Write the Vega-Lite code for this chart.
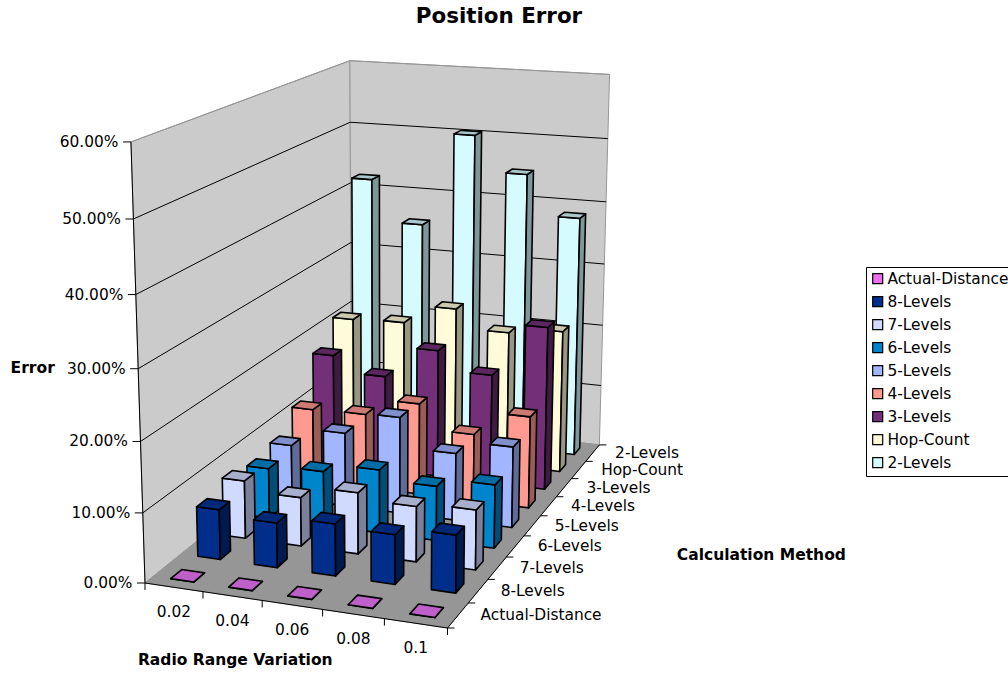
{"$schema":"https://vega.github.io/schema/vega-lite/v6.json","width":1008,"height":643,"autosize":{"type":"none"},"padding":{"left":0,"top":30,"right":0,"bottom":0},"background":"white","title":{"text":"Position Error","font":"DejaVu Sans","fontSize":21.4,"fontWeight":"bold","color":"#000","anchor":"middle","dx":-5,"offset":3},"projection":{"type":"identity","scale":1,"translate":[0,-30]},"config":{"view":{"stroke":null},"font":"DejaVu Sans"},"datasets":{"bars":[
{"radio":0.02,"method":"2-Levels","error":42.1},{"radio":0.04,"method":"2-Levels","error":35.4},{"radio":0.06,"method":"2-Levels","error":50.3},{"radio":0.08,"method":"2-Levels","error":44.7},{"radio":0.1,"method":"2-Levels","error":38.4},
{"radio":0.02,"method":"Hop-Count","error":21.2},{"radio":0.04,"method":"Hop-Count","error":21.5},{"radio":0.06,"method":"Hop-Count","error":24.5},{"radio":0.08,"method":"Hop-Count","error":21.5},{"radio":0.1,"method":"Hop-Count","error":22.5},
{"radio":0.02,"method":"3-Levels","error":17.6},{"radio":0.04,"method":"3-Levels","error":15.1},{"radio":0.06,"method":"3-Levels","error":20.1},{"radio":0.08,"method":"3-Levels","error":17.1},{"radio":0.1,"method":"3-Levels","error":25.4},
{"radio":0.02,"method":"4-Levels","error":11.4},{"radio":0.04,"method":"4-Levels","error":11.6},{"radio":0.06,"method":"4-Levels","error":14.2},{"radio":0.08,"method":"4-Levels","error":10.4},{"radio":0.1,"method":"4-Levels","error":14.1},
{"radio":0.02,"method":"5-Levels","error":8.4},{"radio":0.04,"method":"5-Levels","error":11.3},{"radio":0.06,"method":"5-Levels","error":14.7},{"radio":0.08,"method":"5-Levels","error":10.2},{"radio":0.1,"method":"5-Levels","error":12.2},
{"radio":0.02,"method":"6-Levels","error":7.6},{"radio":0.04,"method":"6-Levels","error":8.2},{"radio":0.06,"method":"6-Levels","error":9.5},{"radio":0.08,"method":"6-Levels","error":8.1},{"radio":0.1,"method":"6-Levels","error":9.4},
{"radio":0.02,"method":"7-Levels","error":8.6},{"radio":0.04,"method":"7-Levels","error":7.2},{"radio":0.06,"method":"7-Levels","error":9.0},{"radio":0.08,"method":"7-Levels","error":8.1},{"radio":0.1,"method":"7-Levels","error":8.7},
{"radio":0.02,"method":"8-Levels","error":7.3},{"radio":0.04,"method":"8-Levels","error":6.5},{"radio":0.06,"method":"8-Levels","error":7.5},{"radio":0.08,"method":"8-Levels","error":7.1},{"radio":0.1,"method":"8-Levels","error":8.2},
{"radio":0.02,"method":"Actual-Distance","error":0},{"radio":0.04,"method":"Actual-Distance","error":0},{"radio":0.06,"method":"Actual-Distance","error":0},{"radio":0.08,"method":"Actual-Distance","error":0},{"radio":0.1,"method":"Actual-Distance","error":0}
],"frame":[{"part":"Left wall","p":[0,0,0],"q":[0,1,0],"r":[0,1,1],"s":[0,0,1]},{"part":"Back wall","p":[0,1,0],"q":[1,1,0],"r":[1,1,1],"s":[0,1,1]},{"part":"Floor","p":[0,0,0],"q":[1,0,0],"r":[1,1,0],"s":[0,1,0]}],
"axisLines":[{"axis":"Error","p":[0,0,0],"q":[0,0,1]},{"axis":"Radio","p":[0,0,0],"q":[1,0,0]},{"axis":"Method","p":[1,0,0],"q":[1,1,0]}],
"errorTicks":[{"error":0,"label":"0.00%"},{"error":10,"label":"10.00%"},{"error":20,"label":"20.00%"},{"error":30,"label":"30.00%"},{"error":40,"label":"40.00%"},{"error":50,"label":"50.00%"},{"error":60,"label":"60.00%"}],
"radioTicks":[{"u":0},{"u":0.2},{"u":0.4},{"u":0.6},{"u":0.8},{"u":1}],
"radioLabels":[{"u":0.1,"label":"0.02"},{"u":0.3,"label":"0.04"},{"u":0.5,"label":"0.06"},{"u":0.7,"label":"0.08"},{"u":0.9,"label":"0.1"}],
"methodTicks":[{"k":0},{"k":1},{"k":2},{"k":3},{"k":4},{"k":5},{"k":6},{"k":7},{"k":8},{"k":9}],
"methodLabels":[{"k":0,"label":"Actual-Distance"},{"k":1,"label":"8-Levels"},{"k":2,"label":"7-Levels"},{"k":3,"label":"6-Levels"},{"k":4,"label":"5-Levels"},{"k":5,"label":"4-Levels"},{"k":6,"label":"3-Levels"},{"k":7,"label":"Hop-Count"},{"k":8,"label":"2-Levels"}]},
"layer":[
{"data":{"name":"frame"},"transform":[
{"calculate":"[(279.41*datum.p[0]+295.11*datum.p[1]-21.24*datum.p[2]+145)/(1-0.0516*datum.p[0]+0.2521*datum.p[1]-0.055*datum.p[2]),(12.6*datum.p[0]-61.5*datum.p[1]-448.85*datum.p[2]+583)/(1-0.0516*datum.p[0]+0.2521*datum.p[1]-0.055*datum.p[2])]","as":"P"},
{"calculate":"[(279.41*datum.q[0]+295.11*datum.q[1]-21.24*datum.q[2]+145)/(1-0.0516*datum.q[0]+0.2521*datum.q[1]-0.055*datum.q[2]),(12.6*datum.q[0]-61.5*datum.q[1]-448.85*datum.q[2]+583)/(1-0.0516*datum.q[0]+0.2521*datum.q[1]-0.055*datum.q[2])]","as":"Q"},
{"calculate":"[(279.41*datum.r[0]+295.11*datum.r[1]-21.24*datum.r[2]+145)/(1-0.0516*datum.r[0]+0.2521*datum.r[1]-0.055*datum.r[2]),(12.6*datum.r[0]-61.5*datum.r[1]-448.85*datum.r[2]+583)/(1-0.0516*datum.r[0]+0.2521*datum.r[1]-0.055*datum.r[2])]","as":"R"},
{"calculate":"[(279.41*datum.s[0]+295.11*datum.s[1]-21.24*datum.s[2]+145)/(1-0.0516*datum.s[0]+0.2521*datum.s[1]-0.055*datum.s[2]),(12.6*datum.s[0]-61.5*datum.s[1]-448.85*datum.s[2]+583)/(1-0.0516*datum.s[0]+0.2521*datum.s[1]-0.055*datum.s[2])]","as":"S"},
{"calculate":"{type:'Feature',properties:{},geometry:{type:'Polygon',coordinates:[[datum.P,datum.Q,datum.R,datum.S,datum.P]]}}","as":"geo"}],
"mark":{"type":"geoshape","strokeWidth":1},"encoding":{"shape":{"field":"geo","type":"geojson"},"fill":{"condition":{"test":"datum.part=='Floor'","value":"#969696"},"value":"#CBCBCB"},"stroke":{"value":"#969696"}}},
{"data":{"name":"errorTicks"},"transform":[{"filter":"datum.error>0"},{"calculate":"datum.error/60","as":"z"},
{"calculate":"[(-21.24*datum.z+145)/(1-0.055*datum.z),(-448.85*datum.z+583)/(1-0.055*datum.z)]","as":"P"},
{"calculate":"[(295.11-21.24*datum.z+145)/(1.2521-0.055*datum.z),(-61.5-448.85*datum.z+583)/(1.2521-0.055*datum.z)]","as":"Q"},
{"calculate":"[(279.41+295.11-21.24*datum.z+145)/(1.2005-0.055*datum.z),(12.6-61.5-448.85*datum.z+583)/(1.2005-0.055*datum.z)]","as":"R"},
{"calculate":"{type:'Feature',properties:{},geometry:{type:'LineString',coordinates:[datum.P,datum.Q,datum.R]}}","as":"geo"}],
"mark":{"type":"geoshape","filled":false,"strokeWidth":1},"encoding":{"shape":{"field":"geo","type":"geojson"},"stroke":{"condition":{"test":"datum.error==60","value":"#969696"},"value":"#000000"}}},
{"data":{"name":"axisLines"},"transform":[
{"calculate":"[(279.41*datum.p[0]+295.11*datum.p[1]-21.24*datum.p[2]+145)/(1-0.0516*datum.p[0]+0.2521*datum.p[1]-0.055*datum.p[2]),(12.6*datum.p[0]-61.5*datum.p[1]-448.85*datum.p[2]+583)/(1-0.0516*datum.p[0]+0.2521*datum.p[1]-0.055*datum.p[2])]","as":"P"},
{"calculate":"[(279.41*datum.q[0]+295.11*datum.q[1]-21.24*datum.q[2]+145)/(1-0.0516*datum.q[0]+0.2521*datum.q[1]-0.055*datum.q[2]),(12.6*datum.q[0]-61.5*datum.q[1]-448.85*datum.q[2]+583)/(1-0.0516*datum.q[0]+0.2521*datum.q[1]-0.055*datum.q[2])]","as":"Q"},
{"calculate":"{type:'Feature',properties:{},geometry:{type:'LineString',coordinates:[datum.P,datum.Q]}}","as":"geo"}],
"mark":{"type":"geoshape","filled":false,"stroke":"#000000","strokeWidth":1},"encoding":{"shape":{"field":"geo","type":"geojson"}}},
{"data":{"name":"bars"},"transform":[
{"calculate":"datum.radio*10-0.1","as":"uc"},
{"calculate":"(indexof(['Actual-Distance','8-Levels','7-Levels','6-Levels','5-Levels','4-Levels','3-Levels','Hop-Count','2-Levels'],datum.method)+0.5)/9","as":"vc"},
{"calculate":"datum.uc-0.04","as":"u0"},{"calculate":"datum.uc+0.04","as":"u1"},{"calculate":"datum.vc-0.0222","as":"v0"},{"calculate":"datum.vc+0.0222","as":"v1"},{"calculate":"datum.error/60","as":"z"},
{"calculate":"[(279.41*datum.u0+295.11*datum.v0+145)/(1-0.0516*datum.u0+0.2521*datum.v0),(12.6*datum.u0-61.5*datum.v0+583)/(1-0.0516*datum.u0+0.2521*datum.v0)]","as":"A"},
{"calculate":"[(279.41*datum.u1+295.11*datum.v0+145)/(1-0.0516*datum.u1+0.2521*datum.v0),(12.6*datum.u1-61.5*datum.v0+583)/(1-0.0516*datum.u1+0.2521*datum.v0)]","as":"B"},
{"calculate":"[(279.41*datum.u1+295.11*datum.v1+145)/(1-0.0516*datum.u1+0.2521*datum.v1),(12.6*datum.u1-61.5*datum.v1+583)/(1-0.0516*datum.u1+0.2521*datum.v1)]","as":"C"},
{"calculate":"[(279.41*datum.u0+295.11*datum.v0-21.24*datum.z+145)/(1-0.0516*datum.u0+0.2521*datum.v0-0.055*datum.z),(12.6*datum.u0-61.5*datum.v0-448.85*datum.z+583)/(1-0.0516*datum.u0+0.2521*datum.v0-0.055*datum.z)]","as":"D"},
{"calculate":"[(279.41*datum.u1+295.11*datum.v0-21.24*datum.z+145)/(1-0.0516*datum.u1+0.2521*datum.v0-0.055*datum.z),(12.6*datum.u1-61.5*datum.v0-448.85*datum.z+583)/(1-0.0516*datum.u1+0.2521*datum.v0-0.055*datum.z)]","as":"E"},
{"calculate":"[(279.41*datum.u1+295.11*datum.v1-21.24*datum.z+145)/(1-0.0516*datum.u1+0.2521*datum.v1-0.055*datum.z),(12.6*datum.u1-61.5*datum.v1-448.85*datum.z+583)/(1-0.0516*datum.u1+0.2521*datum.v1-0.055*datum.z)]","as":"F"},
{"calculate":"[(279.41*datum.u0+295.11*datum.v1-21.24*datum.z+145)/(1-0.0516*datum.u0+0.2521*datum.v1-0.055*datum.z),(12.6*datum.u0-61.5*datum.v1-448.85*datum.z+583)/(1-0.0516*datum.u0+0.2521*datum.v1-0.055*datum.z)]","as":"G"},
{"calculate":"['front','side','top']","as":"face"},{"flatten":["face"]},
{"calculate":"datum.method+'|'+datum.face","as":"shade"},
{"calculate":"datum.face=='front'?[datum.A,datum.B,datum.E,datum.D,datum.A]:datum.face=='side'?[datum.B,datum.C,datum.F,datum.E,datum.B]:[datum.D,datum.E,datum.F,datum.G,datum.D]","as":"ring"},
{"calculate":"{type:'Feature',properties:{},geometry:{type:'Polygon',coordinates:[datum.ring]}}","as":"geo"}],
"mark":{"type":"geoshape","stroke":"#000000","strokeWidth":1.6,"strokeJoin":"round"},"encoding":{"shape":{"field":"geo","type":"geojson"},"fill":{"field":"shade","type":"nominal","legend":null,"scale":{"domain":["Actual-Distance|front","Actual-Distance|side","Actual-Distance|top","8-Levels|front","8-Levels|side","8-Levels|top","7-Levels|front","7-Levels|side","7-Levels|top","6-Levels|front","6-Levels|side","6-Levels|top","5-Levels|front","5-Levels|side","5-Levels|top","4-Levels|front","4-Levels|side","4-Levels|top","3-Levels|front","3-Levels|side","3-Levels|top","Hop-Count|front","Hop-Count|side","Hop-Count|top","2-Levels|front","2-Levels|side","2-Levels|top"],"range":["#EE6EEE","#7A3A80","#BF5FC9","#002E8A","#001A50","#002878","#D0DAFF","#7A8199","#A7AFCC","#0085CC","#004E78","#006EA5","#A2B5FF","#5F6C99","#8090CC","#FF9A90","#995C56","#CC7A72","#733078","#3F1B42","#5C2660","#FFFBD8","#999782","#CCC9AD","#D6FBFF","#7E9799","#ABC9CC"]}}}},
{"data":{"name":"errorTicks"},"transform":[{"calculate":"datum.error/60","as":"z"},{"calculate":"(-21.24*datum.z+145)/(1-0.055*datum.z)","as":"px"},{"calculate":"(-448.85*datum.z+583)/(1-0.055*datum.z)","as":"py"},{"calculate":"datum.px-8","as":"tx"},{"calculate":"datum.px-12.5","as":"lx"}],"layer":[
{"mark":{"type":"rule","stroke":"#000","strokeWidth":1},"encoding":{"x":{"field":"px","type":"quantitative","axis":null,"scale":{"domain":[0,1008],"range":[0,1008],"nice":false,"zero":false}},"x2":{"field":"tx"},"y":{"field":"py","type":"quantitative","axis":null,"scale":{"domain":[30,673],"range":[0,643],"nice":false,"zero":false}}}},
{"mark":{"type":"text","align":"right","baseline":"middle","font":"DejaVu Sans","fontSize":15.4,"color":"#000"},"encoding":{"x":{"field":"lx","type":"quantitative","axis":null,"scale":{"domain":[0,1008],"range":[0,1008],"nice":false,"zero":false}},"y":{"field":"py","type":"quantitative","axis":null,"scale":{"domain":[30,673],"range":[0,643],"nice":false,"zero":false}},"text":{"field":"label"}}}]},
{"data":{"name":"radioTicks"},"transform":[{"calculate":"(279.41*datum.u+145)/(1-0.0516*datum.u)","as":"px"},{"calculate":"(12.6*datum.u+583)/(1-0.0516*datum.u)","as":"py"},{"calculate":"datum.py+7","as":"ty"}],
"mark":{"type":"rule","stroke":"#000","strokeWidth":1},"encoding":{"x":{"field":"px","type":"quantitative","axis":null,"scale":{"domain":[0,1008],"range":[0,1008],"nice":false,"zero":false}},"y":{"field":"py","type":"quantitative","axis":null,"scale":{"domain":[30,673],"range":[0,643],"nice":false,"zero":false}},"y2":{"field":"ty"}}},
{"data":{"name":"radioLabels"},"transform":[{"calculate":"(279.41*datum.u+145)/(1-0.0516*datum.u)","as":"px"},{"calculate":"(12.6*datum.u+583)/(1-0.0516*datum.u)+25","as":"py"}],
"mark":{"type":"text","align":"center","baseline":"middle","font":"DejaVu Sans","fontSize":15.4,"color":"#000"},"encoding":{"x":{"field":"px","type":"quantitative","axis":null,"scale":{"domain":[0,1008],"range":[0,1008],"nice":false,"zero":false}},"y":{"field":"py","type":"quantitative","axis":null,"scale":{"domain":[30,673],"range":[0,643],"nice":false,"zero":false}},"text":{"field":"label"}}},
{"data":{"name":"methodTicks"},"transform":[{"calculate":"datum.k/9","as":"v"},{"calculate":"(424.41+295.11*datum.v)/(0.9484+0.2521*datum.v)","as":"px"},{"calculate":"(595.6-61.5*datum.v)/(0.9484+0.2521*datum.v)","as":"py"},{"calculate":"datum.px+7","as":"tx"}],
"mark":{"type":"rule","stroke":"#000","strokeWidth":1},"encoding":{"x":{"field":"px","type":"quantitative","axis":null,"scale":{"domain":[0,1008],"range":[0,1008],"nice":false,"zero":false}},"x2":{"field":"tx"},"y":{"field":"py","type":"quantitative","axis":null,"scale":{"domain":[30,673],"range":[0,643],"nice":false,"zero":false}}}},
{"data":{"name":"methodLabels"},"transform":[{"calculate":"(datum.k+0.5)/9","as":"v"},{"calculate":"(424.41+295.11*datum.v)/(0.9484+0.2521*datum.v)+22.5","as":"px"},{"calculate":"(595.6-61.5*datum.v)/(0.9484+0.2521*datum.v)","as":"py"}],
"mark":{"type":"text","align":"left","baseline":"middle","font":"DejaVu Sans","fontSize":15.4,"color":"#000"},"encoding":{"x":{"field":"px","type":"quantitative","axis":null,"scale":{"domain":[0,1008],"range":[0,1008],"nice":false,"zero":false}},"y":{"field":"py","type":"quantitative","axis":null,"scale":{"domain":[30,673],"range":[0,643],"nice":false,"zero":false}},"text":{"field":"label"}}},
{"data":{"values":[{"title":"Error","z":0.5}]},"transform":[{"calculate":"(-21.24*datum.z+145)/(1-0.055*datum.z)","as":"px"},{"calculate":"(-448.85*datum.z+583)/(1-0.055*datum.z)","as":"py"}],
"mark":{"type":"text","align":"center","baseline":"middle","font":"DejaVu Sans","fontSize":15.5,"fontWeight":"bold","color":"#000","dx":-105.5,"dy":-1},"encoding":{"x":{"field":"px","type":"quantitative","axis":null,"scale":{"domain":[0,1008],"range":[0,1008],"nice":false,"zero":false}},"y":{"field":"py","type":"quantitative","axis":null,"scale":{"domain":[30,673],"range":[0,643],"nice":false,"zero":false}},"text":{"field":"title"}}},
{"data":{"values":[{"title":"Radio Range Variation","u":0.5}]},"transform":[{"calculate":"(279.41*datum.u+145)/(1-0.0516*datum.u)","as":"px"},{"calculate":"(12.6*datum.u+583)/(1-0.0516*datum.u)","as":"py"}],
"mark":{"type":"text","align":"center","baseline":"middle","font":"DejaVu Sans","fontSize":15.5,"fontWeight":"bold","color":"#000","dx":-57,"dy":55},"encoding":{"x":{"field":"px","type":"quantitative","axis":null,"scale":{"domain":[0,1008],"range":[0,1008],"nice":false,"zero":false}},"y":{"field":"py","type":"quantitative","axis":null,"scale":{"domain":[30,673],"range":[0,643],"nice":false,"zero":false}},"text":{"field":"title"}}},
{"data":{"values":[{"title":"Calculation Method","v":0.5}]},"transform":[{"calculate":"(424.41+295.11*datum.v)/(0.9484+0.2521*datum.v)","as":"px"},{"calculate":"(595.6-61.5*datum.v)/(0.9484+0.2521*datum.v)","as":"py"}],
"mark":{"type":"text","align":"center","baseline":"middle","font":"DejaVu Sans","fontSize":15.5,"fontWeight":"bold","color":"#000","dx":229,"dy":29},"encoding":{"x":{"field":"px","type":"quantitative","axis":null,"scale":{"domain":[0,1008],"range":[0,1008],"nice":false,"zero":false}},"y":{"field":"py","type":"quantitative","axis":null,"scale":{"domain":[30,673],"range":[0,643],"nice":false,"zero":false}},"text":{"field":"title"}}},
{"data":{"name":"bars"},"mark":{"type":"point","filled":true,"size":0,"opacity":1},"encoding":{"fill":{"field":"method","type":"nominal","scale":{"domain":["Actual-Distance","8-Levels","7-Levels","6-Levels","5-Levels","4-Levels","3-Levels","Hop-Count","2-Levels"],"range":["#EE6EEE","#002E8A","#D0DAFF","#0085CC","#A2B5FF","#FF9A90","#733078","#FFFBD8","#D6FBFF"]},"legend":{"title":null,"orient":"none","legendX":866,"legendY":237,"symbolType":"square","symbolSize":100,"symbolStrokeColor":"#000000","symbolStrokeWidth":1.2,"labelFont":"DejaVu Sans","labelFontSize":15.4,"labelColor":"#000","labelOffset":2,"rowPadding":6,"padding":4,"fillColor":"#FFFFFF","strokeColor":"#000000","labelLimit":200}}}}
],"resolve":{"scale":{"fill":"independent"}}}
